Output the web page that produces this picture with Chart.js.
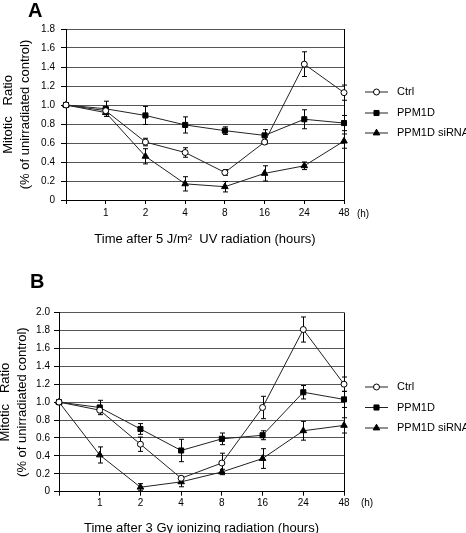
<!DOCTYPE html>
<html>
<head>
<meta charset="utf-8">
<script src="https://cdn.jsdelivr.net/npm/chart.js@4.4.1/dist/chart.umd.min.js"></script>
<style>
    html, body { margin: 0; padding: 0; background: #fff; }
    body { width: 466px; height: 533px; position: relative; overflow: hidden; font-family: Arial, "Liberation Sans", sans-serif; }
    canvas { position: absolute; }
    /* panel letters sit on top of the canvases */
    .panel-letter { position: absolute; font-weight: bold; font-size: 20px; line-height: 20px; color: #000; z-index: 2; }
</style>
</head>
<body>
<canvas id="chartA" width="466" height="266" style="left:0;top:0"></canvas>
<canvas id="chartB" width="469" height="275" style="left:-3px;top:270px"></canvas>
<div class="panel-letter" style="left:28px;top:0px">A</div>
<div class="panel-letter" style="left:30px;top:271px">B</div>

<script>
    // x categories (time 0 has no label)
    const timeLabels = ['', '1', '2', '4', '8', '16', '24', '48'];
    const seriesNames = ['Ctrl', 'PPM1D', 'PPM1D siRNA'];

    // Panel A: 5 J/m2 UV
    const uvCtrl      = [1.0, 0.94, 0.61, 0.50, 0.29, 0.61, 1.43, 1.13];
    const uvCtrlErr   = [0, 0.03, 0.04, 0.05, 0.03, 0.02, 0.13, 0.08];
    const uvPpm1d     = [1.0, 0.96, 0.89, 0.79, 0.73, 0.68, 0.85, 0.81];
    const uvPpm1dErr  = [0, 0.08, 0.095, 0.085, 0.04, 0.06, 0.10, 0.08];
    const uvSirna     = [1.0, 0.92, 0.46, 0.17, 0.14, 0.28, 0.36, 0.62];
    const uvSirnaErr  = [0, 0.04, 0.08, 0.075, 0.055, 0.08, 0.04, 0.075];
    const uvYMax = 1.8;

    // Panel B: 3 Gy ionizing radiation
    const irCtrl      = [1.0, 0.91, 0.53, 0.15, 0.32, 0.94, 1.81, 1.20];
    const irCtrlErr   = [0, 0.03, 0.08, 0.02, 0.11, 0.125, 0.14, 0.08];
    const irPpm1d     = [1.0, 0.94, 0.70, 0.46, 0.59, 0.63, 1.11, 1.03];
    const irPpm1dErr  = [0, 0.08, 0.06, 0.125, 0.065, 0.05, 0.075, 0.09];
    const irSirna     = [1.0, 0.41, 0.05, 0.11, 0.22, 0.37, 0.68, 0.74];
    const irSirnaErr  = [0, 0.09, 0.04, 0.055, 0.03, 0.11, 0.105, 0.085];
    const irYMax = 2.0;

    const FONT = 'Arial, "Liberation Sans", sans-serif';
    Chart.defaults.font.family = FONT;
    Chart.defaults.color = '#000';

    // vertical error bars with caps, drawn through the y scale
    const errorBarPlugin = {
        id: 'errorBars',
        beforeDatasetsDraw(chart) {
            const ctx = chart.ctx;
            const y = chart.scales.y;
            ctx.save();
            ctx.strokeStyle = '#000';
            ctx.lineWidth = 1;
            chart.data.datasets.forEach((ds, i) => {
                const meta = chart.getDatasetMeta(i);
                (ds.errorBars || []).forEach((e, j) => {
                    if (!e) return;
                    const x = Math.round(meta.data[j].x) + 0.5;
                    const top = y.getPixelForValue(ds.data[j] + e);
                    const bot = y.getPixelForValue(ds.data[j] - e);
                    ctx.beginPath();
                    ctx.moveTo(x, top); ctx.lineTo(x, bot);
                    ctx.moveTo(x - 2.5, top); ctx.lineTo(x + 2.5, top);
                    ctx.moveTo(x - 2.5, bot); ctx.lineTo(x + 2.5, bot);
                    ctx.stroke();
                });
            });
            ctx.restore();
        }
    };

    // legend to the right (line with marker) and the "(h)" unit label
    const sideLegendPlugin = {
        id: 'sideLegend',
        afterDraw(chart, args, opts) {
            const ctx = chart.ctx;
            ctx.save();
            chart.data.datasets.forEach((ds, i) => {
                const yy = opts.rows[i];
                ctx.strokeStyle = ds.borderColor;
                ctx.lineWidth = 1;
                ctx.beginPath();
                ctx.moveTo(opts.x, yy); ctx.lineTo(opts.x + 23, yy);
                ctx.stroke();
                ctx.fillStyle = ds.pointBackgroundColor;
                ctx.strokeStyle = ds.pointBorderColor;
                Chart.helpers.drawPoint(ctx, { pointStyle: ds.pointStyle, radius: ds.pointRadius, borderWidth: 1, rotation: 0 }, opts.x + 11.5, yy);
                ctx.fillStyle = '#000';
                ctx.font = '11px ' + FONT;
                ctx.textAlign = 'left';
                ctx.textBaseline = 'middle';
                ctx.fillText(ds.label, opts.x + 32, yy);
            });
            ctx.font = '10px ' + FONT;
            ctx.textAlign = 'center';
            ctx.textBaseline = 'middle';
            ctx.fillText('(h)', opts.unitX, opts.unitY);
            ctx.restore();
        }
    };

    function makeDatasets(ctrl, ctrlErr, ppm, ppmErr, sirna, sirnaErr) {
        const base = { borderColor: '#222', borderWidth: 1, pointBorderColor: '#000', pointBorderWidth: 1, tension: 0 };
        return [
            Object.assign({}, base, { label: seriesNames[0], data: ctrl, errorBars: ctrlErr, pointStyle: 'circle', pointRadius: 3, pointBackgroundColor: '#fff' }),
            Object.assign({}, base, { label: seriesNames[1], data: ppm, errorBars: ppmErr, pointStyle: 'rect', pointRadius: 3.6, pointBackgroundColor: '#000' }),
            Object.assign({}, base, { label: seriesNames[2], data: sirna, errorBars: sirnaErr, pointStyle: 'triangle', pointRadius: 3.8, pointBackgroundColor: '#000' })
        ];
    }

    function makeChart(id, p) {
        const lastIdx = timeLabels.length - 1;
        return new Chart(document.getElementById(id), {
            type: 'line',
            data: { labels: timeLabels, datasets: p.datasets },
            plugins: [errorBarPlugin, sideLegendPlugin],
            options: {
                responsive: false,
                animation: false,
                layout: { padding: { top: p.padTop, right: 122, left: 0, bottom: 0 } },
                plugins: {
                    legend: { display: false },
                    tooltip: { enabled: false },
                    sideLegend: p.legend
                },
                scales: {
                    x: {
                        type: 'category',
                        offset: false,
                        afterFit: (scale) => { scale.height = p.xHeight; },
                        ticks: { autoSkip: false, maxRotation: 0, padding: p.xTickPad, font: { size: 10 } },
                        grid: {
                            // only the last vertical line is drawn: right frame of the plot
                            color: (c) => c.index === lastIdx ? '#000' : 'rgba(0,0,0,0)',
                            tickColor: '#000',
                            tickLength: 4
                        },
                        border: { color: '#000' },
                        title: { display: true, text: p.xTitle, font: { size: 13 }, padding: { top: 0, bottom: p.xTitlePad } }
                    },
                    y: {
                        min: 0,
                        max: p.yMax,
                        afterFit: (scale) => { scale.width = p.yWidth; },
                        ticks: {
                            stepSize: 0.2,
                            padding: p.yTickPad,
                            font: { size: 10 },
                            callback: (v) => v === 0 ? '0' : v.toFixed(1)
                        },
                        grid: { color: '#555', tickColor: '#000', tickLength: 5 },
                        border: { color: '#000' },
                        title: {
                            display: true,
                            text: ['Mitotic   Ratio', '(% of unirradiated control)'],
                            font: { size: 13, lineHeight: 1.3 },
                            padding: 0
                        }
                    }
                }
            }
        });
    }

    makeChart('chartA', {
        datasets: makeDatasets(uvCtrl, uvCtrlErr, uvPpm1d, uvPpm1dErr, uvSirna, uvSirnaErr),
        yMax: uvYMax,
        padTop: 29,
        yWidth: 66,
        xHeight: 66,
        xTickPad: 3.5,
        yTickPad: 6,
        xTitlePad: 19,
        xTitle: 'Time after 5 J/m\u00B2  UV radiation (hours)',
        legend: { x: 365, rows: [92, 113, 133], unitX: 363, unitY: 214 }
    });

    makeChart('chartB', {
        datasets: makeDatasets(irCtrl, irCtrlErr, irPpm1d, irPpm1dErr, irSirna, irSirnaErr),
        yMax: irYMax,
        padTop: 42.5,
        yWidth: 62,
        xHeight: 53.3,
        xTickPad: 2,
        yTickPad: 4,
        xTitlePad: 9,
        xTitle: 'Time after 3 Gy ionizing radiation (hours)',
        legend: { x: 368, rows: [117, 137.5, 158], unitX: 370, unitY: 233.5 }
    });
</script>
</body>
</html>
